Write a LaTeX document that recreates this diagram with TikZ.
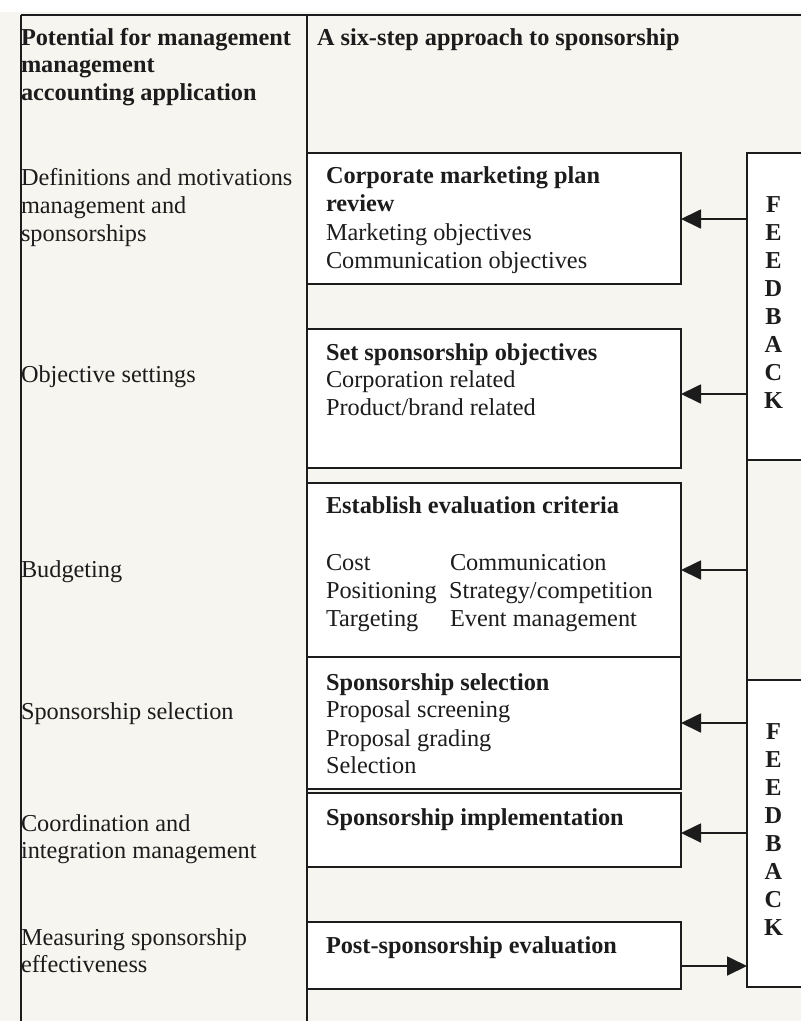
\documentclass[tikz,border=0pt]{standalone}
\usepackage{fontspec}
\setmainfont{Liberation Serif}
\usetikzlibrary{arrows.meta}
\definecolor{paper}{HTML}{F7F5F0}
\definecolor{ink}{HTML}{1C1C1C}
\begin{document}
\begin{tikzpicture}[x=1pt,y=-1pt,
  txt/.style={anchor=base west,inner sep=0pt,outer sep=0pt,text=ink,font=\fontsize{24.3}{28}\selectfont},
  btxt/.style={txt,font=\fontsize{24.3}{28}\selectfont\bfseries},
  letter/.style={anchor=base,inner sep=0pt,text=ink,font=\fontsize{24.3}{28}\selectfont\bfseries},
  stepbox/.style={draw=ink,line width=1.8pt,fill=white,anchor=north west,inner sep=0pt,outer sep=0pt,minimum width=374pt},
  fbbox/.style={draw=ink,line width=1.8pt,fill=white,anchor=north west,inner sep=0pt,outer sep=0pt,minimum width=60pt},
  rule/.style={draw=ink,line width=1.8pt},
  arr/.style={draw=ink,line width=1.8pt,-{Triangle[length=20pt,width=19pt]}}
]
\useasboundingbox (0,0) rectangle (801,1021);
\fill[paper] (0,0) rectangle (801,1021);
\fill[white] (0,0) rectangle (801,12);

% frame lines
\coordinate (tl) at (21,15);
\coordinate (tr) at (803,15);
\coordinate (bl) at (21,1023);
\coordinate (dtop) at (307,15);
\coordinate (dbot) at (307,1023);
\draw[rule] (tl) -- (tr);
\draw[rule] (tl) -- (bl);
\draw[rule] (dtop) -- (dbot);

% headers
\node[btxt] (h1) at (21,45) {Potential for management};
\node[btxt] (h2) at (21,72) {management};
\node[btxt] (h3) at (21,100) {accounting application};
\node[btxt] (h4) at (317,45) {A six-step approach to sponsorship};

% left column
\node[txt] (l1a) at (21,185) {Definitions and motivations};
\node[txt] (l1b) at (21,213) {management and};
\node[txt] (l1c) at (21,241) {sponsorships};
\node[txt] (l2) at (21,382) {Objective settings};
\node[txt] (l3) at (21,577) {Budgeting};
\node[txt] (l4) at (21,719) {Sponsorship selection};
\node[txt] (l5a) at (21,831) {Coordination and};
\node[txt] (l5b) at (21,858) {integration management};
\node[txt] (l6a) at (21,945) {Measuring sponsorship};
\node[txt] (l6b) at (21,972) {effectiveness};

% step boxes
\node[stepbox,minimum height=131pt] (b1) at (307,153) {};
\node[stepbox,minimum height=139pt] (b2) at (307,329) {};
\node[stepbox,minimum height=174pt] (b3) at (307,483) {};
\node[stepbox,minimum height=132pt] (b4) at (307,657) {};
\node[stepbox,minimum height=74pt] (b5) at (307,793) {};
\node[stepbox,minimum height=67pt] (b6) at (307,922) {};

% box texts
\node[btxt] (t1a) at (326,183) {Corporate marketing plan};
\node[btxt] (t1b) at (326,211) {review};
\node[txt] (t1c) at (326,240) {Marketing objectives};
\node[txt] (t1d) at (326,268) {Communication objectives};

\node[btxt] (t2a) at (326,360) {Set sponsorship objectives};
\node[txt] (t2b) at (326,387) {Corporation related};
\node[txt] (t2c) at (326,415) {Product/brand related};

\node[btxt] (t3a) at (326,513) {Establish evaluation criteria};
\node[txt] (t3b) at (326,570) {Cost};
\node[txt] (t3c) at (326,598) {Positioning};
\node[txt] (t3d) at (326,626) {Targeting};
\node[txt] (t3e) at (450,570) {Communication};
\node[txt] (t3f) at (449,598) {Strategy/competition};
\node[txt] (t3g) at (450,626) {Event management};

\node[btxt] (t4a) at (326,690) {Sponsorship selection};
\node[txt] (t4b) at (326,717) {Proposal screening};
\node[txt] (t4c) at (326,746) {Proposal grading};
\node[txt] (t4d) at (326,773) {Selection};

\node[btxt] (t5) at (326,825) {Sponsorship implementation};
\node[btxt] (t6) at (326,953) {Post-sponsorship evaluation};

% feedback boxes
\node[fbbox,minimum height=307pt] (fb1) at (747,153) {};
\node[fbbox,minimum height=220pt,fill=paper] (fbm) at (747,460) {};
\node[fbbox,minimum height=307pt] (fb2) at (747,680) {};

\foreach \l [count=\i] in {F,E,E,D,B,A,C,K} {
  \node[letter] (fa\i) at (773.5,{212+28*(\i-1)}) {\l};
  \node[letter] (fc\i) at (773.5,{739+28*(\i-1)}) {\l};
}

% arrows
\coordinate (y1) at (0,219);
\coordinate (y2) at (0,394);
\coordinate (y3) at (0,570);
\coordinate (y4) at (0,723);
\coordinate (y5) at (0,833);
\coordinate (y6) at (0,966);
\draw[arr] (fb1.west |- y1) -- (b1.east |- y1);
\draw[arr] (fb1.west |- y2) -- (b2.east |- y2);
\draw[arr] (fbm.west |- y3) -- (b3.east |- y3);
\draw[arr] (fb2.west |- y4) -- (b4.east |- y4);
\draw[arr] (fb2.west |- y5) -- (b5.east |- y5);
\draw[arr] (b6.east |- y6) -- (fb2.west |- y6);
\end{tikzpicture}
\end{document}
